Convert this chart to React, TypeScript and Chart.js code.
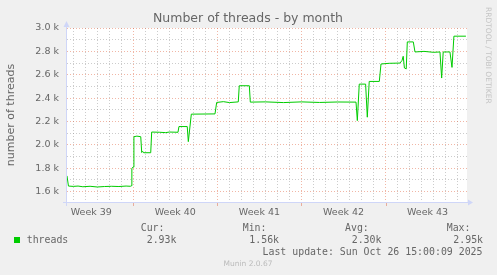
import { useEffect, useRef } from "react";
import { Chart, registerables } from "chart.js";

Chart.register(...registerables);

// x = days since the start of Week 40 (Mon); y = number of threads
const dayOffsets = [
  -5.52, -5.4, -5.0, -4.6, -4.2, -3.6, -3.0, -2.4, -1.8, -1.2, -0.6, -0.25, -0.18, -0.12, -0.02,
  0.05, 0.3, 0.62, 0.7, 0.78, 0.86, 1.45, 1.53, 2.2, 2.7, 3.0, 3.72, 3.8, 4.49, 4.58, 4.83,
  6.8, 6.94, 7.5, 8.0, 8.74, 8.82, 9.66, 9.74, 11.0, 12.5, 14.0, 15.5, 17.0, 18.54, 18.65,
  18.81, 19.34, 19.48, 19.64, 20.48, 20.62, 21.3, 22.2, 22.37, 22.47, 22.57, 22.72, 22.81,
  23.31, 23.45, 24.2, 25.0, 25.53, 25.67, 25.8, 26.36, 26.53, 26.69, 27.69,
];
const threadValues = [
  1735, 1648, 1645, 1648, 1642, 1646, 1640, 1644, 1646, 1644, 1648, 1646, 1650, 1800, 1810,
  2070, 2075, 2070, 1935, 1945, 1933, 1933, 2110, 2108, 2105, 2110, 2108, 2157, 2157, 2028, 2263,
  2265, 2363, 2370, 2362, 2368, 2506, 2506, 2366, 2368, 2362, 2368, 2363, 2367, 2366, 2208,
  2520, 2520, 2237, 2543, 2543, 2692, 2698, 2700, 2722, 2758, 2658, 2650, 2881,
  2881, 2795, 2800, 2792, 2795, 2572, 2795, 2795, 2663, 2930, 2930,
];

const weekLabels = ["Week 39", "Week 40", "Week 41", "Week 42", "Week 43"];
const weekCenters = [-3.5, 3.5, 10.5, 17.5, 24.5];
const X_MIN = -5.52;
const X_MAX = 27.78;
const Y_MIN = 1503;
const Y_MAX = 3000;
const Y_STEP = 100;

const statLabels = ["Cur:", "Min:", "Avg:", "Max:"];
const statValues = ["2.93k", "1.56k", "2.30k", "2.95k"];
const seriesName = "threads";
const titleText = "Number of threads - by month";
const yTitle = "number of threads";
const lastUpdate = "Last update: Sun Oct 26 15:00:09 2025";
const watermark = "Munin 2.0.67";
const sideText = "RRDTOOL / TOBI OETIKER";

const FONT_COLOR = "#666666";
const AXIS_COLOR = "#CFD6F8";
const GRID_MINOR = "rgba(143,143,143,0.45)";
const GRID_MAJOR = "rgba(222,80,40,0.42)";
const LINE_COLOR = "#00cc00";

const decorPlugin = {
  id: "decor",
  beforeDraw(chart: any) {
    const { ctx, chartArea, width, height } = chart;
    ctx.save();
    ctx.fillStyle = "#f0f0f0";
    ctx.fillRect(0, 0, width, height);
    ctx.fillStyle = "#ffffff";
    ctx.fillRect(chartArea.left, chartArea.top, chartArea.right - chartArea.left, chartArea.bottom - chartArea.top);
    ctx.restore();
  },
  afterDraw(chart: any) {
    const { ctx, chartArea } = chart;
    const xs = chart.scales.x;
    ctx.save();
    // week boundary tick marks below axis
    ctx.strokeStyle = GRID_MAJOR;
    ctx.lineWidth = 1;
    for (let d = Math.ceil(X_MIN); d <= Math.floor(X_MAX); d++) {
      if (d % 7 !== 0) continue;
      const px = Math.round(xs.getPixelForValue(d)) + 0.5;
      ctx.beginPath();
      ctx.moveTo(px, chartArea.bottom);
      ctx.lineTo(px, chartArea.bottom + 3);
      ctx.stroke();
    }
    // axes
    const ax = chartArea.left - 0.5;
    const ay = chartArea.bottom - 0.5;
    ctx.strokeStyle = AXIS_COLOR;
    ctx.fillStyle = AXIS_COLOR;
    ctx.beginPath();
    ctx.moveTo(ax, chartArea.bottom + 3);
    ctx.lineTo(ax, chartArea.top - 2);
    ctx.moveTo(chartArea.left - 4, ay);
    ctx.lineTo(chartArea.right + 2, ay);
    ctx.stroke();
    ctx.beginPath();
    ctx.moveTo(ax, chartArea.top - 7);
    ctx.lineTo(ax - 3, chartArea.top - 1);
    ctx.lineTo(ax + 3, chartArea.top - 1);
    ctx.closePath();
    ctx.fill();
    ctx.beginPath();
    ctx.moveTo(chartArea.right + 6, ay);
    ctx.lineTo(chartArea.right + 1, ay - 3);
    ctx.lineTo(chartArea.right + 1, ay + 3);
    ctx.closePath();
    ctx.fill();

    // title
    ctx.fillStyle = FONT_COLOR;
    ctx.textBaseline = "middle";
    ctx.textAlign = "center";
    ctx.font = '12.5px "DejaVu Sans"';
    ctx.fillText(titleText, 248, 19);

    // y title
    ctx.save();
    ctx.translate(11, 115);
    ctx.rotate(-Math.PI / 2);
    ctx.font = '11px "DejaVu Sans"';
    ctx.fillText(yTitle, 0, 0);
    ctx.restore();

    // side text
    ctx.save();
    ctx.translate(487.5, 7);
    ctx.rotate(Math.PI / 2);
    ctx.textAlign = "left";
    ctx.fillStyle = "#c4c4c4";
    ctx.font = '7.5px "DejaVu Sans"';
    ctx.fillText(sideText, 0, 0);
    ctx.restore();

    // legend
    ctx.fillStyle = LINE_COLOR;
    ctx.fillRect(14, 237, 6, 6);
    ctx.fillStyle = FONT_COLOR;
    ctx.font = '9.9px "DejaVu Sans Mono"';
    ctx.textAlign = "left";
    ctx.fillText(seriesName, 26.7, 240);
    const labelX = [140.7, 242.7, 345, 446.7];
    const valueX = [146.7, 249.3, 351.7, 453.3];
    statLabels.forEach((s, i) => ctx.fillText(s, labelX[i], 228.5));
    statValues.forEach((s, i) => ctx.fillText(s, valueX[i], 240));
    ctx.textAlign = "right";
    ctx.fillText(lastUpdate, 482.5, 252);

    // watermark
    ctx.textAlign = "center";
    ctx.fillStyle = "#bbbbbb";
    ctx.font = '7.5px "DejaVu Sans"';
    ctx.fillText(watermark, 248, 264.5);
    ctx.restore();
  },
};

export default function App() {
  const canvasRef = useRef<HTMLCanvasElement | null>(null);

  useEffect(() => {
    document.body.style.margin = "0";
    const canvas = canvasRef.current;
    if (!canvas) return;
    const chart = new Chart(canvas, {
      type: "line",
      data: {
        datasets: [
          {
            label: seriesName,
            data: dayOffsets.map((x, i) => ({ x, y: threadValues[i] })),
            borderColor: LINE_COLOR,
            borderWidth: 1,
            pointRadius: 0,
            tension: 0,
            fill: false,
          },
        ],
      },
      options: {
        responsive: false,
        animation: false,
        devicePixelRatio: 1,
        layout: { padding: { left: 0, top: 28, right: 30, bottom: 52 } },
        plugins: {
          legend: { display: false },
          title: { display: false },
          tooltip: { enabled: false },
        },
        scales: {
          x: {
            type: "linear",
            min: X_MIN,
            max: X_MAX,
            afterBuildTicks: (axis: any) => {
              const t: { value: number }[] = [];
              for (let d = Math.ceil(X_MIN); d <= Math.floor(X_MAX); d++) t.push({ value: d });
              weekCenters.forEach((c) => t.push({ value: c }));
              t.sort((a, b) => a.value - b.value);
              axis.ticks = t;
            },
            afterFit: (s: any) => {
              s.height = 20;
            },
            grid: {
              drawTicks: false,
              lineWidth: 1,
              color: (c: any) => {
                const v = c.tick ? c.tick.value : NaN;
                if (!Number.isInteger(v)) return "rgba(0,0,0,0)";
                return v % 7 === 0 ? GRID_MAJOR : GRID_MINOR;
              },
            },
            border: { display: false, dash: [1, 2] },
            ticks: {
              autoSkip: false,
              maxRotation: 0,
              minRotation: 0,
              padding: 4,
              color: FONT_COLOR,
              font: { family: "DejaVu Sans", size: 9.5 },
              callback: (value: any) => {
                const i = weekCenters.indexOf(Number(value));
                return i >= 0 ? weekLabels[i] : "";
              },
            },
          },
          y: {
            type: "linear",
            min: Y_MIN,
            max: Y_MAX,
            afterBuildTicks: (axis: any) => {
              const t: { value: number }[] = [];
              for (let v = Math.ceil(Y_MIN / Y_STEP) * Y_STEP; v <= Y_MAX; v += Y_STEP) t.push({ value: v });
              axis.ticks = t;
            },
            afterFit: (s: any) => {
              s.width = 67;
            },
            grid: {
              drawTicks: false,
              lineWidth: 1,
              color: (c: any) => {
                const v = c.tick ? c.tick.value : NaN;
                return v % 200 === 0 ? GRID_MAJOR : GRID_MINOR;
              },
            },
            border: { display: false, dash: [1, 2] },
            ticks: {
              autoSkip: false,
              padding: 8,
              color: FONT_COLOR,
              font: { family: "DejaVu Sans", size: 9.5 },
              callback: (value: any) => {
                const v = Number(value);
                return v % 200 === 0 ? (v / 1000).toFixed(1) + " k" : "";
              },
            },
          },
        },
      },
      plugins: [decorPlugin],
    });
    return () => chart.destroy();
  }, []);

  return (
    <div style={{ position: "absolute", left: 0, top: 0, width: 497, height: 275, background: "#f0f0f0" }}>
      <canvas ref={canvasRef} width={497} height={275} style={{ display: "block", width: 497, height: 275 }} />
    </div>
  );
}
